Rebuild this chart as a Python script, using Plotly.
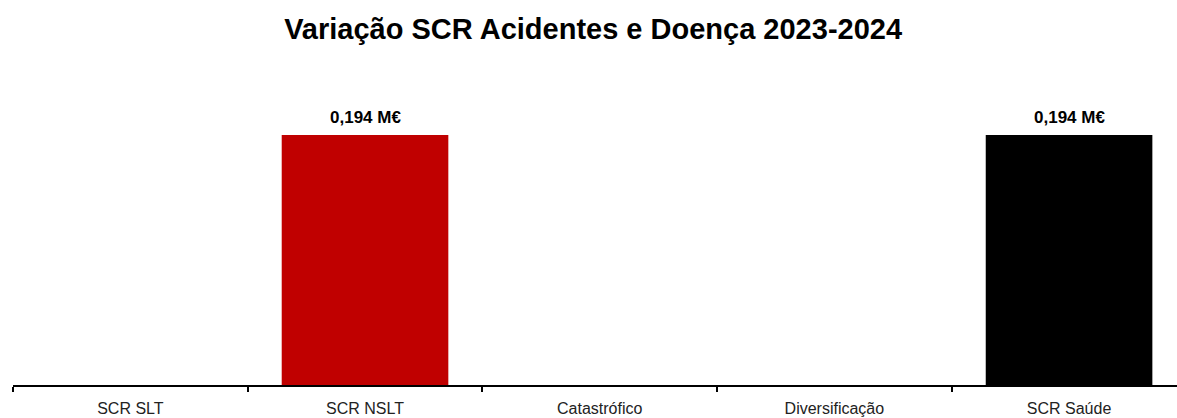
import plotly.graph_objects as go

# Variação do SCR de Acidentes e Doença entre 2023 e 2024 (milhões de euros)
categories = ["SCR SLT", "SCR NSLT", "Catastrófico", "Diversificação", "SCR Saúde"]
values = [0.0, 0.194, 0.0, 0.0, 0.194]
bar_colors = ["#C00000", "#C00000", "#C00000", "#C00000", "#000000"]

labels = [f"{v:.3f}".replace(".", ",") + " M€" if v else "" for v in values]

font_family = "Liberation Sans, Arial, sans-serif"

fig = go.Figure(
    go.Bar(
        x=categories,
        y=values,
        marker=dict(color=bar_colors, line=dict(width=0)),
        width=0.71,
        hoverinfo="skip",
    )
)

# value labels placed just above each non-zero bar
for cat, val, lab in zip(categories, values, labels):
    if lab:
        fig.add_annotation(
            x=cat,
            y=val,
            text=f"<b>{lab}</b>",
            showarrow=False,
            yanchor="bottom",
            yshift=6,
            font=dict(family=font_family, size=17, color="#000000"),
        )

fig.update_layout(
    width=1177,
    height=418,
    paper_bgcolor="white",
    plot_bgcolor="white",
    margin=dict(l=13, r=0, t=60, b=33),
    showlegend=False,
    title=dict(
        text="<b>Variação SCR Acidentes e Doença 2023-2024</b>",
        x=0.5039,
        xanchor="center",
        y=0.93,
        yanchor="middle",
        font=dict(family=font_family, size=29, color="#000000"),
    ),
)

fig.update_xaxes(
    type="category",
    categoryorder="array",
    categoryarray=categories,
    range=[-0.5, 4.46],
    tickson="boundaries",
    showline=True,
    linecolor="#000000",
    linewidth=2,
    ticks="outside",
    ticklen=5,
    tickwidth=2,
    tickcolor="#000000",
    ticklabelstandoff=8,
    showgrid=False,
    zeroline=False,
    tickfont=dict(family=font_family, size=16, color="#222222"),
)
fig.update_yaxes(
    range=[0, 0.2522],
    visible=False,
    showgrid=False,
    zeroline=False,
)

fig.write_html("out.html")
